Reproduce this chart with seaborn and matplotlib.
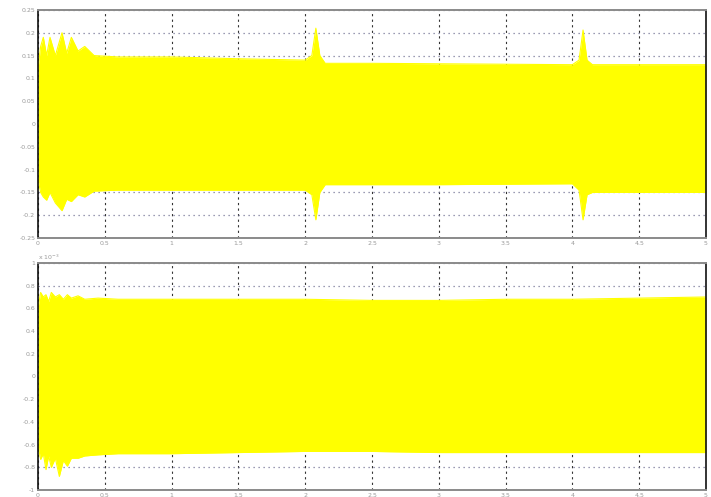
import numpy as np
import pandas as pd
import seaborn as sns
import matplotlib.pyplot as plt

# envelope of the upper signal
top_x = [0, 0.02, 0.04, 0.065, 0.09, 0.13, 0.18, 0.215, 0.25, 0.3, 0.35, 0.42,
         0.6, 1.0, 1.5, 2.0, 2.05, 2.08, 2.11, 2.15, 2.5, 3.0, 3.5, 4.0,
         4.05, 4.08, 4.11, 4.15, 4.5, 5.0]
top_hi = [0.12, 0.17, 0.19, 0.15, 0.19, 0.15, 0.2, 0.155, 0.19, 0.16, 0.17, 0.15,
          0.147, 0.147, 0.143, 0.14, 0.15, 0.21, 0.15, 0.133, 0.133, 0.132, 0.131, 0.13,
          0.14, 0.206, 0.14, 0.13, 0.13, 0.13]
top_lo = [-0.12, -0.15, -0.16, -0.167, -0.15, -0.173, -0.19, -0.165, -0.17, -0.155, -0.16, -0.147,
          -0.145, -0.145, -0.145, -0.145, -0.155, -0.21, -0.15, -0.133, -0.133, -0.133, -0.132, -0.131,
          -0.145, -0.21, -0.155, -0.15, -0.15, -0.15]

# envelope of the lower signal (units of 1e-3)
bot_x = [0, 0.02, 0.04, 0.06, 0.08, 0.1, 0.13, 0.16, 0.19, 0.22, 0.25, 0.3, 0.35,
         0.45, 0.6, 1.0, 1.5, 2.0, 2.5, 3.0, 3.5, 4.0, 4.5, 5.0]
bot_hi = [0.6, 0.74, 0.7, 0.72, 0.66, 0.74, 0.7, 0.72, 0.68, 0.72, 0.69, 0.71, 0.68,
          0.69, 0.68, 0.68, 0.68, 0.68, 0.67, 0.67, 0.68, 0.68, 0.69, 0.7]
bot_lo = [-0.6, -0.73, -0.68, -0.82, -0.7, -0.8, -0.72, -0.88, -0.74, -0.79, -0.72, -0.72, -0.7,
          -0.69, -0.68, -0.68, -0.67, -0.66, -0.66, -0.67, -0.67, -0.67, -0.67, -0.67]

x_ticks = [0, 0.5, 1, 1.5, 2, 2.5, 3, 3.5, 4, 4.5, 5]
x_labels = ["0", "0.5", "1", "1.5", "2", "2.5", "3", "3.5", "4", "4.5", "5"]
top_ticks = [-0.25, -0.2, -0.15, -0.1, -0.05, 0, 0.05, 0.1, 0.15, 0.2, 0.25]
top_labels = ["-0.25", "-0.2", "-0.15", "-0.1", "-0.05", "0", "0.05", "0.1", "0.15", "0.2", "0.25"]
bot_ticks = [-1, -0.8, -0.6, -0.4, -0.2, 0, 0.2, 0.4, 0.6, 0.8, 1]
bot_labels = ["-1", "-0.8", "-0.6", "-0.4", "-0.2", "0", "0.2", "0.4", "0.6", "0.8", "1"]

sns.set_style("white")
plt.rcParams['font.family'] = ['DejaVu Sans']

fig = plt.figure(figsize=(7.11, 4.97), dpi=100)
ax1 = fig.add_axes([0.0534, 0.521, 0.9395, 0.459])
ax2 = fig.add_axes([0.0534, 0.014, 0.9395, 0.457])

yellow = "#ffff00"


def draw(ax, xs, hi, lo, ticks, labels, lim):
    df = pd.DataFrame({"t": xs, "hi": hi, "lo": lo})
    ax.fill_between(df["t"], df["lo"], df["hi"], color=yellow, lw=0, zorder=2)
    sns.lineplot(data=df, x="t", y="hi", ax=ax, color=yellow, lw=0.8, zorder=2)
    sns.lineplot(data=df, x="t", y="lo", ax=ax, color=yellow, lw=0.8, zorder=2)
    ax.set_xlim(0, 5)
    ax.set_ylim(-lim, lim)
    ax.set_xticks(x_ticks)
    ax.set_xticklabels(x_labels)
    ax.set_yticks(ticks)
    ax.set_yticklabels(labels)
    ax.set_xlabel("")
    ax.set_ylabel("")
    ax.tick_params(labelsize=4.5, labelcolor="#9a9a9a", length=2, pad=2,
                   direction="in", color="#333333")
    ax.xaxis.grid(True, color="#333333", linestyle=(0, (2, 3)), lw=0.8, zorder=1)
    ax.yaxis.grid(True, color="#7a7a9a", linestyle=(0, (1, 3)), lw=0.9, zorder=1)
    ax.set_axisbelow(True)
    for side in ["top", "bottom"]:
        ax.spines[side].set_color("#8a8a8a")
        ax.spines[side].set_linewidth(1.4)
    for side in ["left", "right"]:
        ax.spines[side].set_color("#111111")
        ax.spines[side].set_linewidth(1.2)


draw(ax1, top_x, top_hi, top_lo, top_ticks, top_labels, 0.25)
draw(ax2, bot_x, bot_hi, bot_lo, bot_ticks, bot_labels, 1.0)
ax2.text(0.0, 1.005, "x 10$^{-3}$", transform=ax2.transAxes, fontsize=4.5,
         color="#9a9a9a", va="bottom", ha="left")

fig.savefig("out.png", dpi=100)
